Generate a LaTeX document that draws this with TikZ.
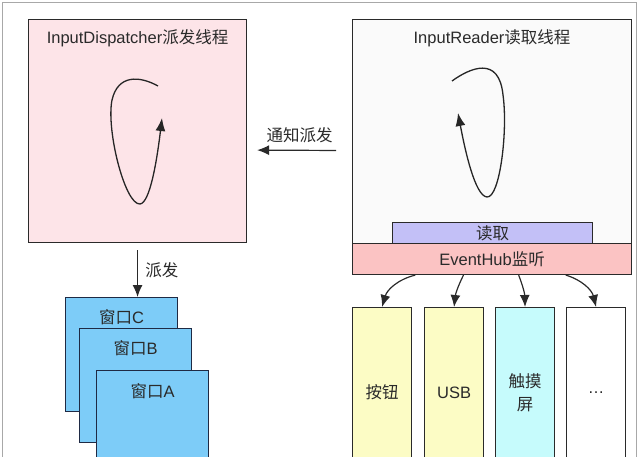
\documentclass[tikz,border=0pt]{standalone}
\usepackage{fontspec}
\setmainfont{Liberation Sans}
\newfontfamily\cjk{Noto Sans CJK SC}
\usetikzlibrary{arrows.meta,calc}
\definecolor{threadpink}{HTML}{FDE4E8}
\definecolor{readerwhite}{HTML}{FAFAFA}
\definecolor{readlav}{HTML}{C3C0F7}
\definecolor{hubpink}{HTML}{FBC3C3}
\definecolor{devyellow}{HTML}{FCFCC5}
\definecolor{devcyan}{HTML}{C6FBFC}
\definecolor{winblue}{HTML}{7DCCF8}
\definecolor{winedge}{HTML}{1F2A44}
\definecolor{inkgray}{HTML}{2A2A2A}
\definecolor{framegray}{HTML}{A8A8A8}

\begin{document}
\begin{tikzpicture}[x=1pt,y=-1pt,
  txt/.style={font=\fontsize{16.5}{23}\selectfont,text=inkgray},
  box/.style={draw=inkgray,line width=1.1pt,anchor=north west,inner sep=0pt,txt},
  device/.style={box,minimum width=59pt,minimum height=170pt,align=center},
  win/.style={box,draw=winedge,fill=winblue,minimum width=112pt,minimum height=114pt},
  flow/.style={-{Latex[length=12pt,width=10pt]},line width=1.2pt,draw=inkgray},
  spin/.style={-{Latex[length=13pt,width=10pt]},line width=1.3pt,draw=black!85}]
\path[use as bounding box] (0,0) rectangle (640,456);
\clip (0,0) rectangle (640,456);
\draw[framegray,line width=0.8pt] (2,2) rectangle (636,480);

% threads
\node[box,fill=threadpink,minimum width=218pt,minimum height=223pt,
  label={[txt,anchor=center,yshift=-19pt]north:InputDispatcher{\cjk 派发线程}}] (dispatch) at (28,19) {};
\node[box,fill=readerwhite,minimum width=279pt,minimum height=224pt,
  label={[txt,anchor=center,yshift=-19pt]north:InputReader{\cjk 读取线程}}] (reader) at (352,19) {};
\node[box,fill=readlav,minimum width=200pt,minimum height=21pt] (read) at (392,222) {\cjk 读取};
\node[box,fill=hubpink,minimum width=279pt,minimum height=31pt] (hub) at (352,243) {EventHub{\cjk 监听}};

% loops
\draw[spin] (158,86) .. controls (140,76) and (118,74) .. (112,100)
  .. controls (106,130) and (125,205) .. (140,204)
  .. controls (150,203) and (157,160) .. (162,118);
\draw[spin] (452,81) .. controls (470,68) and (499,55) .. (503,95)
  .. controls (508,130) and (500,198) .. (487,197)
  .. controls (475,196) and (465,150) .. (458,113);

% devices
\node[device,fill=devyellow] (btn) at (352,307) {\cjk 按钮};
\node[device,fill=devyellow] (usb) at (424,307) {USB};
\node[device,fill=devcyan] (touch) at (495,307) {\cjk 触摸\\\cjk 屏};
\node[device,fill=white] (more) at (566,307) {\dots};

% windows
\node[win,label={[txt,anchor=center,yshift=-20pt]north:{\cjk 窗口}C}] (winC) at (65,297) {};
\node[win,label={[txt,anchor=center,yshift=-20pt]north:{\cjk 窗口}B}] (winB) at (79,328) {};
\node[win,label={[txt,anchor=center,yshift=-21pt]north:{\cjk 窗口}A}] (winA) at (96,370) {};

% arrows
\draw[flow,shorten <=16pt,shorten >=10pt] ([yshift=-19pt]reader.west) -- node[txt,above=3pt]{\cjk 通知派发} ([yshift=-19pt]dispatch.east);
\draw[flow,shorten <=7pt] (dispatch.south) -- node[txt,right=4pt]{\cjk 派发} (dispatch.south |- winC.north);
\draw[flow] ($(hub.south west)!0.226!(hub.south east)$) to[bend right=30] (btn.north);
\draw[flow] ($(hub.south west)!0.398!(hub.south east)$) to[bend right=10] (usb.north);
\draw[flow] ($(hub.south west)!0.595!(hub.south east)$) to[bend left=10] (touch.north);
\draw[flow] ($(hub.south west)!0.763!(hub.south east)$) to[bend left=30] (more.north);
\end{tikzpicture}
\end{document}
